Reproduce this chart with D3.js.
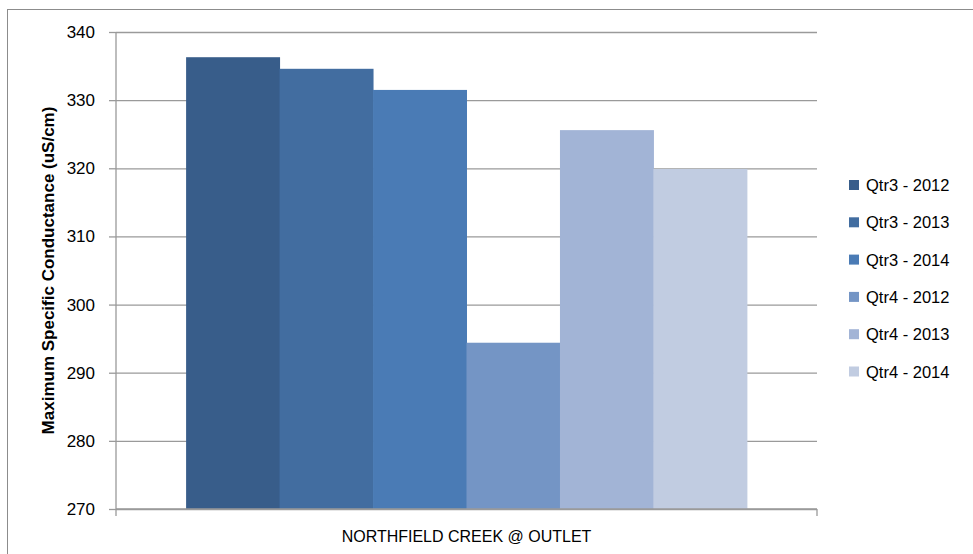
<!DOCTYPE html>
<html>
<head>
<meta charset="utf-8">
<script src="https://cdn.jsdelivr.net/npm/d3@7"></script>
<style>
  html, body { margin: 0; padding: 0; background: #fff; }
  svg { display: block; }
  text { font-family: "Liberation Sans", Arial, sans-serif; fill: #000; }
</style>
</head>
<body>
<svg id="chart" width="973" height="554"></svg>
<script>
// Maximum specific conductance at the Northfield Creek outlet, by quarter and year
const categories = ["NORTHFIELD CREEK @ OUTLET"];
const seriesNames = ["Qtr3 - 2012", "Qtr3 - 2013", "Qtr3 - 2014", "Qtr4 - 2012", "Qtr4 - 2013", "Qtr4 - 2014"];
const seriesValues = [336.3, 334.6, 331.5, 294.4, 325.6, 319.9];
const seriesColors = ["#385D8A", "#426DA0", "#4A7BB5", "#7495C5", "#A2B4D6", "#C1CCE1"];
const yTicks = [270, 280, 290, 300, 310, 320, 330, 340];
const yTitle = "Maximum Specific Conductance (uS/cm)";

const svg = d3.select("#chart");
const plot = { left: 116, right: 817, top: 32, bottom: 509 };
const axisColor = "#9a9a9a";

// Chart area frame
svg.append("rect")
  .attr("x", 7.5).attr("y", 9.5)
  .attr("width", 1200).attr("height", 800)
  .attr("fill", "#fff").attr("stroke", "#8c8c8c").attr("stroke-width", 1);

const y = d3.scaleLinear().domain([270, 340]).range([plot.bottom, plot.top]);
const x0 = d3.scaleBand().domain(categories).range([plot.left, plot.right]).padding(0);
// 150% gap width: 0.75 bar width of padding on each side of the cluster
const x1 = d3.scaleBand().domain(seriesNames).range([0, x0.bandwidth()])
  .paddingInner(0).paddingOuter(0.75);

// Horizontal gridlines
const grid = svg.append("g").attr("transform", `translate(${plot.left},0)`)
  .call(d3.axisLeft(y).tickValues(yTicks).tickSize(-(plot.right - plot.left)).tickFormat(""));
grid.select(".domain").remove();
grid.selectAll("line").attr("stroke", axisColor).attr("stroke-width", 1.3);

// Bars
const group = svg.append("g");
categories.forEach(cat => {
  group.selectAll("rect.bar")
    .data(seriesNames.map((name, i) => ({ name, value: seriesValues[i], color: seriesColors[i] })))
    .join("rect")
    .attr("class", "bar")
    .attr("x", d => x0(cat) + x1(d.name))
    .attr("width", x1.bandwidth() + 0.5)
    .attr("y", d => y(d.value))
    .attr("height", d => y(270) - y(d.value))
    .attr("fill", d => d.color);
});

// Value axis
const yAxis = svg.append("g").attr("transform", `translate(${plot.left},0)`)
  .call(d3.axisLeft(y).tickValues(yTicks).tickSize(7).tickPadding(14));
yAxis.select(".domain").attr("stroke", axisColor).attr("stroke-width", 1.3)
  .attr("d", `M0,${plot.top}V${plot.bottom}`);
yAxis.selectAll("line").attr("stroke", axisColor).attr("stroke-width", 1.3);
yAxis.selectAll("text").attr("font-size", 17).attr("font-family", "Liberation Sans, Arial, sans-serif").attr("fill", "#000");

// Category axis: ticks on the category boundaries, label centred
const xAxis = svg.append("g").attr("transform", `translate(0,${plot.bottom})`)
  .call(d3.axisBottom(x0).tickSize(0).tickPadding(22));
xAxis.select(".domain").attr("stroke", axisColor).attr("stroke-width", 1.3)
  .attr("d", `M${plot.left},0H${plot.right}`);
xAxis.selectAll("text").attr("font-size", 16).attr("font-family", "Liberation Sans, Arial, sans-serif").attr("fill", "#000");
const bounds = [x0.range()[0], x0.range()[1]];
xAxis.selectAll("line.bound").data(bounds).join("line").attr("class", "bound")
  .attr("x1", d => d).attr("x2", d => d).attr("y1", 0).attr("y2", 7)
  .attr("stroke", axisColor).attr("stroke-width", 1.3);

// Axis title
svg.append("text")
  .attr("transform", `translate(48,${(plot.top + plot.bottom) / 2}) rotate(-90)`)
  .attr("text-anchor", "middle").attr("dominant-baseline", "central")
  .attr("font-size", 17).attr("font-weight", "bold")
  .text(yTitle);

// Legend
const legend = svg.append("g").attr("transform", "translate(849,185)");
const rows = legend.selectAll("g").data(seriesNames).join("g")
  .attr("transform", (d, i) => `translate(0,${i * 37.3})`);
rows.append("rect").attr("x", 0).attr("y", -5).attr("width", 10).attr("height", 10)
  .attr("fill", (d, i) => seriesColors[i]);
rows.append("text").attr("x", 17).attr("y", 0).attr("dominant-baseline", "central")
  .attr("font-size", 16.5).text(d => d);
</script>
</body>
</html>
